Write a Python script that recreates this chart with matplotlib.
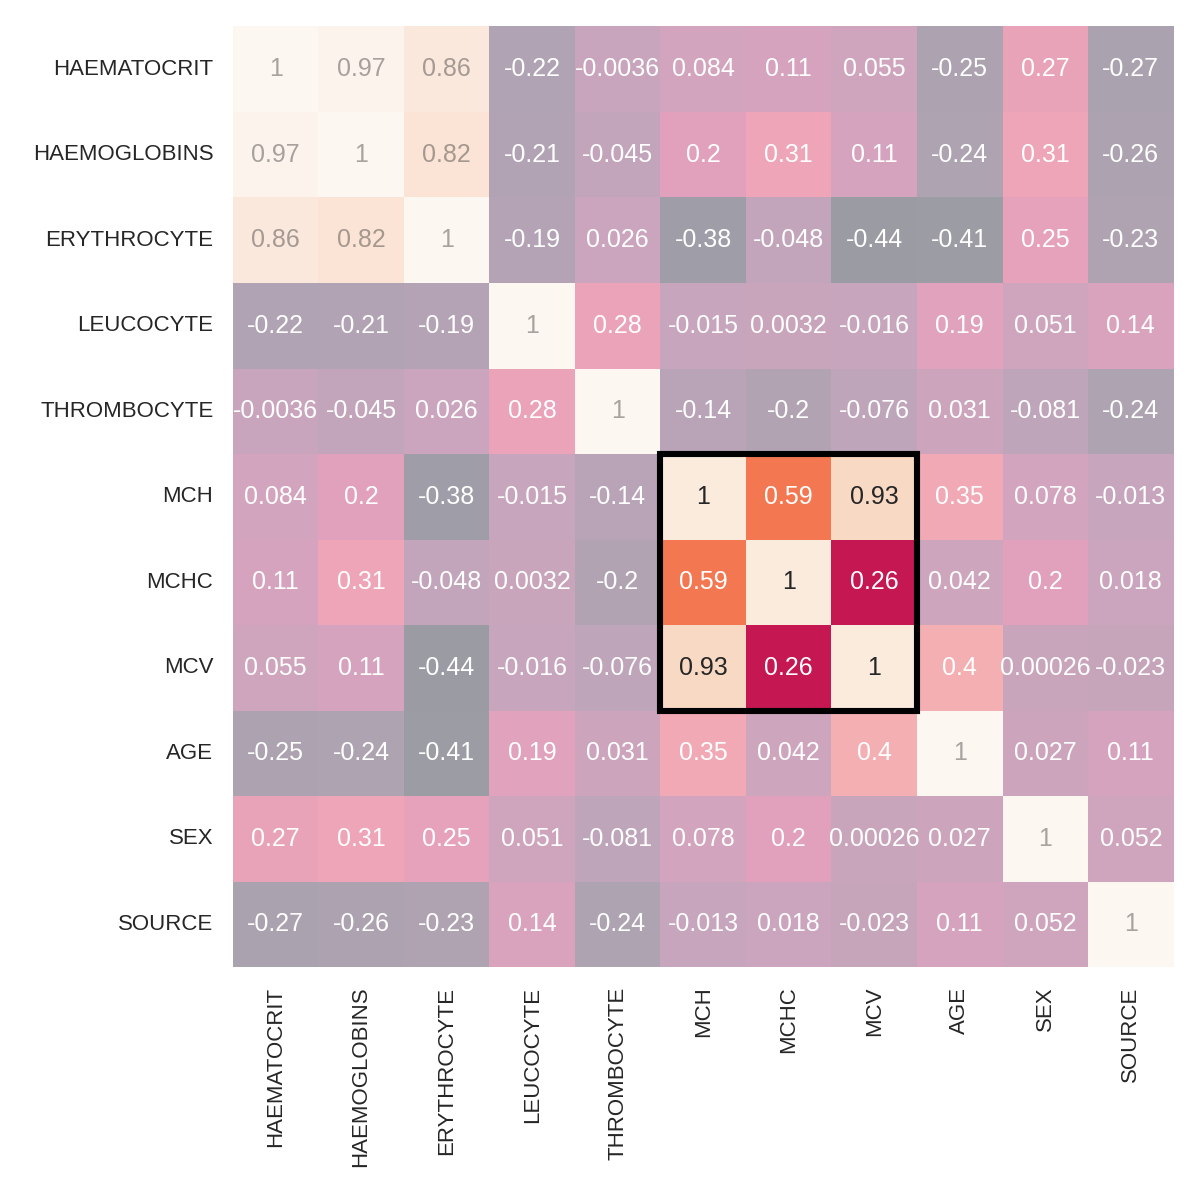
import numpy as np
import matplotlib.pyplot as plt
import matplotlib.colors as mcolors
import seaborn as sns
from matplotlib.patches import Rectangle

labels = ["HAEMATOCRIT", "HAEMOGLOBINS", "ERYTHROCYTE", "LEUCOCYTE", "THROMBOCYTE",
          "MCH", "MCHC", "MCV", "AGE", "SEX", "SOURCE"]
corr = np.array([
    [1, 0.97, 0.86, -0.22, -0.0036, 0.084, 0.11, 0.055, -0.25, 0.27, -0.27],
    [0.97, 1, 0.82, -0.21, -0.045, 0.2, 0.31, 0.11, -0.24, 0.31, -0.26],
    [0.86, 0.82, 1, -0.19, 0.026, -0.38, -0.048, -0.44, -0.41, 0.25, -0.23],
    [-0.22, -0.21, -0.19, 1, 0.28, -0.015, 0.0032, -0.016, 0.19, 0.051, 0.14],
    [-0.0036, -0.045, 0.026, 0.28, 1, -0.14, -0.2, -0.076, 0.031, -0.081, -0.24],
    [0.084, 0.2, -0.38, -0.015, -0.14, 1, 0.59, 0.93, 0.35, 0.078, -0.013],
    [0.11, 0.31, -0.048, 0.0032, -0.2, 0.59, 1, 0.26, 0.042, 0.2, 0.018],
    [0.055, 0.11, -0.44, -0.016, -0.076, 0.93, 0.26, 1, 0.4, 0.00026, -0.023],
    [-0.25, -0.24, -0.41, 0.19, 0.031, 0.35, 0.042, 0.4, 1, 0.027, 0.11],
    [0.27, 0.31, 0.25, 0.051, -0.081, 0.078, 0.2, 0.00026, 0.027, 1, 0.052],
    [-0.27, -0.26, -0.23, 0.14, -0.24, -0.013, 0.018, -0.023, 0.11, 0.052, 1],
])
block = [5, 6, 7]

sns.set_style("white")
plt.rcParams['font.family'] = ['Liberation Sans', 'DejaVu Sans']
fig, ax = plt.subplots(figsize=(6, 6), dpi=200)
fig.subplots_adjust(left=0.194, right=0.978, top=0.978, bottom=0.194)

# faded full matrix
sns.heatmap(corr, ax=ax, cmap="rocket", vmin=-0.44, vmax=1, alpha=0.4, cbar=False,
            annot=True, fmt=".2g", annot_kws={"size": 9},
            xticklabels=labels, yticklabels=labels, square=True)
for t in list(ax.texts):
    x, y = t.get_position()
    if int(x) in block and int(y) in block:
        t.remove()
    elif sum(mcolors.to_rgb(t.get_color())) < 1:
        t.set_alpha(0.4)

# highlighted block at full opacity
mask = np.ones_like(corr, dtype=bool)
for i in block:
    for j in block:
        mask[i, j] = False
sns.heatmap(corr, mask=mask, ax=ax, cmap="rocket", vmin=-0.44, vmax=1, cbar=False,
            annot=True, fmt=".2g", annot_kws={"size": 9},
            xticklabels=labels, yticklabels=labels, square=True)
ax.add_patch(Rectangle((5, 5), 3, 3, fill=False, edgecolor="black", lw=2.2, clip_on=False))

ax.tick_params(axis="both", labelsize=8, length=0, pad=7)
plt.setp(ax.get_xticklabels(), rotation=90)
plt.setp(ax.get_yticklabels(), rotation=0)
fig.savefig("out.png")
